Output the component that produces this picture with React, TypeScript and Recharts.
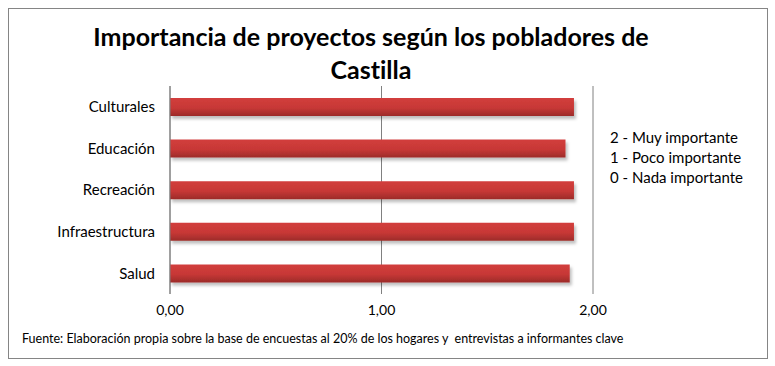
import React from 'react';
import { BarChart, Bar, XAxis, YAxis, CartesianGrid } from 'recharts';

// categories top to bottom, average importance score
const categories = ['Culturales', 'Educación', 'Recreación', 'Infraestructura', 'Salud'];
const scores = [1.91, 1.87, 1.91, 1.91, 1.89];
const xTicks = [0, 1, 2];
const scaleLabels = ['2 - Muy importante', '1 - Poco importante', '0 - Nada importante'];

const FONT = 'Lato, "Open Sans", sans-serif';

const chartData = categories.map((name, i) => ({ name, value: scores[i] }));

const App: React.FC = () => {
  return (
    <div
      style={{
        position: 'absolute',
        left: 0,
        top: 0,
        width: 775,
        height: 366,
        background: '#fff',
        fontVariantLigatures: 'none',
      }}
    >
      <div
        style={{
          position: 'absolute',
          left: 8,
          top: 8,
          width: 758,
          height: 349,
          border: '1px solid #858585',
        }}
      />
      <div
        style={{
          position: 'absolute',
          left: 0,
          top: 20,
          width: 742,
          textAlign: 'center',
          fontFamily: FONT,
          fontWeight: 700,
          fontSize: 25,
          lineHeight: '33px',
          color: '#000',
        }}
      >
        Importancia de proyectos según los pobladores de
        <br />
        Castilla
      </div>
      <BarChart
        width={775}
        height={366}
        data={chartData}
        layout="vertical"
        margin={{ top: 86, right: 182, left: 0, bottom: 42 }}
        style={{ position: 'absolute', left: 0, top: 0, fontVariantLigatures: 'none' }}
      >
        <defs>
          <linearGradient id="barFill" x1="0" y1="0" x2="0" y2="1">
            <stop offset="0%" stopColor="#d23e3c" />
            <stop offset="55%" stopColor="#c73836" />
            <stop offset="100%" stopColor="#9c2b29" />
          </linearGradient>
          <filter id="barShadow" x="-5%" y="-30%" width="110%" height="180%">
            <feDropShadow dx="2" dy="3" stdDeviation="1.5" floodColor="#000" floodOpacity="0.25" />
          </filter>
        </defs>
        <CartesianGrid vertical horizontal={false} stroke="#808080" />
        <XAxis
          type="number"
          domain={[0, 2]}
          ticks={xTicks}
          tickFormatter={(v: number) => v.toFixed(2).replace('.', ',')}
          axisLine={false}
          tickLine={false}
          tickMargin={5}
          tick={{ fill: '#000', fontSize: 14, fontFamily: FONT }}
        />
        <YAxis
          type="category"
          dataKey="name"
          width={170}
          axisLine={{ stroke: '#808080' }}
          tickLine={false}
          tickMargin={9}
          tick={{ fill: '#000', fontSize: 15, fontFamily: FONT }}
        />
        <Bar
          dataKey="value"
          barSize={18}
          fill="url(#barFill)"
          filter="url(#barShadow)"
          isAnimationActive={false}
        />
      </BarChart>
      <div
        style={{
          position: 'absolute',
          left: 610,
          top: 127,
          fontFamily: FONT,
          fontSize: 15,
          lineHeight: '20px',
          color: '#000',
        }}
      >
        {scaleLabels.map(s => (
          <div key={s}>{s}</div>
        ))}
      </div>
      <div
        style={{
          position: 'absolute',
          left: 22,
          top: 331,
          fontFamily: FONT,
          fontSize: 12.5,
          color: '#000',
          whiteSpace: 'pre',
        }}
      >
        Fuente: Elaboración propia sobre la base de encuestas al 20% de los hogares y  entrevistas a informantes clave
      </div>
    </div>
  );
};

export default App;
